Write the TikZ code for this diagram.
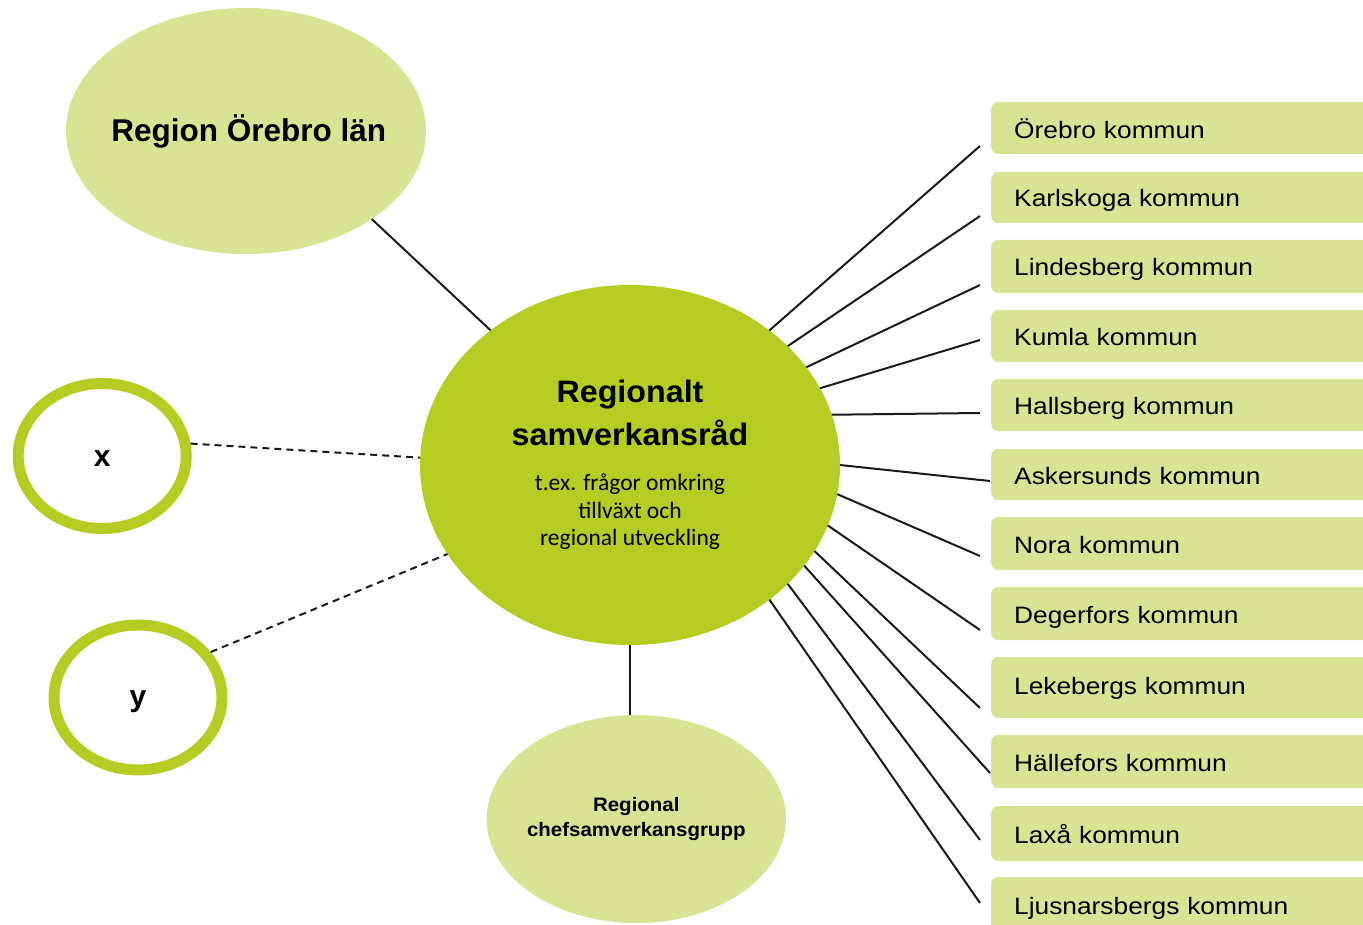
\documentclass[tikz,border=0pt]{standalone}
\usepackage{fontspec}
\setmainfont{Liberation Sans}
\newfontfamily\boxfont[FakeStretch=1.11]{Liberation Sans}
\newfontfamily\titlefont[FakeStretch=1.04]{Liberation Sans}
\newfontfamily\cheffont[FakeStretch=1.05]{Liberation Sans}
\newfontfamily\calfont{Carlito}
\usetikzlibrary{shapes.geometric}
\definecolor{lightgreen}{RGB}{216,228,148}
\definecolor{maingreen}{RGB}{181,204,34}
\definecolor{linecol}{RGB}{26,26,26}
\tikzset{
  kbox/.style={fill=lightgreen, rounded corners=7pt, anchor=west, text width=344pt,
    inner xsep=23pt, inner ysep=0pt, align=left, text height=19.6pt, text depth=0.6pt,
    font=\boxfont\fontsize{23.7}{28}\selectfont},
  bigell/.style={ellipse, inner sep=0pt, outer sep=0pt},
  ring/.style={ellipse, draw=maingreen, line width=11pt, fill=white,
    minimum width=168pt, minimum height=145pt, inner sep=0pt},
  conn/.style={draw=linecol, line width=2pt},
  dconn/.style={draw=linecol, line width=2pt, dash pattern=on 7pt off 5pt},
}
\begin{document}
\begin{tikzpicture}[x=1pt,y=-1pt]
\path[use as bounding box] (0,0) rectangle (1363,925);
\clip (0,0) rectangle (1363,925);

% boxes
\node[kbox, minimum height=52pt, text height=22.6pt] (b1) at (991,128) {Örebro kommun};
\node[kbox, minimum height=51pt] (b2) at (991,197.5) {Karlskoga kommun};
\node[kbox, minimum height=53pt] (b3) at (991,266.5) {Lindesberg kommun};
\node[kbox, minimum height=52pt] (b4) at (991,336) {Kumla kommun};
\node[kbox, minimum height=52pt] (b5) at (991,405) {Hallsberg kommun};
\node[kbox, minimum height=51pt] (b6) at (991,474.5) {Askersunds kommun};
\node[kbox, minimum height=53pt] (b7) at (991,543.5) {Nora kommun};
\node[kbox, minimum height=53pt] (b8) at (991,613.5) {Degerfors kommun};
\node[kbox, minimum height=61pt, text height=13.6pt] (b9) at (991,687.5) {Lekebergs kommun};
\node[kbox, minimum height=53pt] (b10) at (991,761.5) {Hällefors kommun};
\node[kbox, minimum height=55pt] (b11) at (991,833.5) {Laxå kommun};
\node[kbox, minimum height=56pt] (b12) at (991,905) {Ljusnarsbergs kommun};

% line ends near boxes
\coordinate (e1) at (980,146);
\coordinate (e2) at (980,216);
\coordinate (e3) at (980,285);
\coordinate (e4) at (980,340);
\coordinate (e5) at (980,413);
\coordinate (e6) at (990,481);
\coordinate (e7) at (980,556);
\coordinate (e8) at (980,630);
\coordinate (e9) at (980,708);
\coordinate (e10) at (990,773);
\coordinate (e11) at (980,840);
\coordinate (e12) at (980,903);

% ellipses
\node[bigell, fill=lightgreen, minimum width=360pt, minimum height=246pt,
  label={[font=\bfseries\fontsize{31.5}{36}\selectfont, xshift=2.7pt]center:Region Örebro län}]
  (reg) at (246,131) {};
\node[bigell, fill=lightgreen, minimum width=299.4pt, minimum height=208pt,
  label={[align=center, font=\cheffont\bfseries\fontsize{19.5}{25.3}\selectfont]center:Regional\\chefsamverkansgrupp}]
  (chef) at (636.3,819) {};
\node[bigell, fill=maingreen, minimum width=420pt, minimum height=360pt]
  (c) at (630,465) {\parbox{280pt}{\centering\parskip=0pt
    \titlefont\bfseries\fontsize{31}{43}\selectfont Regionalt\\samverkansråd\par
    \vspace{17.9pt}
    \calfont\mdseries\fontsize{23.5}{27.5}\selectfont t.ex. frågor omkring\\tillväxt och\\regional utveckling\par}};
\node[ring, label={[font=\bfseries\fontsize{30}{36}\selectfont, yshift=-2.5pt]center:x}] (xr) at (102.2,456) {};
\node[ring, label={[font=\bfseries\fontsize{30}{36}\selectfont, yshift=-4.5pt]center:y}] (yr) at (138,697.5) {};

% connectors
\draw[conn] (reg.-35.4) -- (c.136.4);
\draw[conn] (c.south) -- (c.south |- chef.north);
\draw[dconn] (xr.8.4) -- (c.178.5);
\draw[dconn] (yr.32.6) -- (c.206.6);
\draw[conn] (c.44.2) -- (e1);
\draw[conn] (c.37.0) -- (e2);
\draw[conn] (c.29.2) -- (e3);
\draw[conn] (c.22.7) -- (e4);
\draw[conn] (c.14.4) -- (e5);
\draw[conn] (c.0.8) -- (e6);
\draw[conn] (c.-8.0) -- (e7);
\draw[conn] (c.-17.5) -- (e8);
\draw[conn] (c.-25.7) -- (e9);
\draw[conn] (c.-30.9) -- (e10);
\draw[conn] (c.-37.0) -- (e11);
\draw[conn] (c.-44.0) -- (e12);
\end{tikzpicture}
\end{document}
